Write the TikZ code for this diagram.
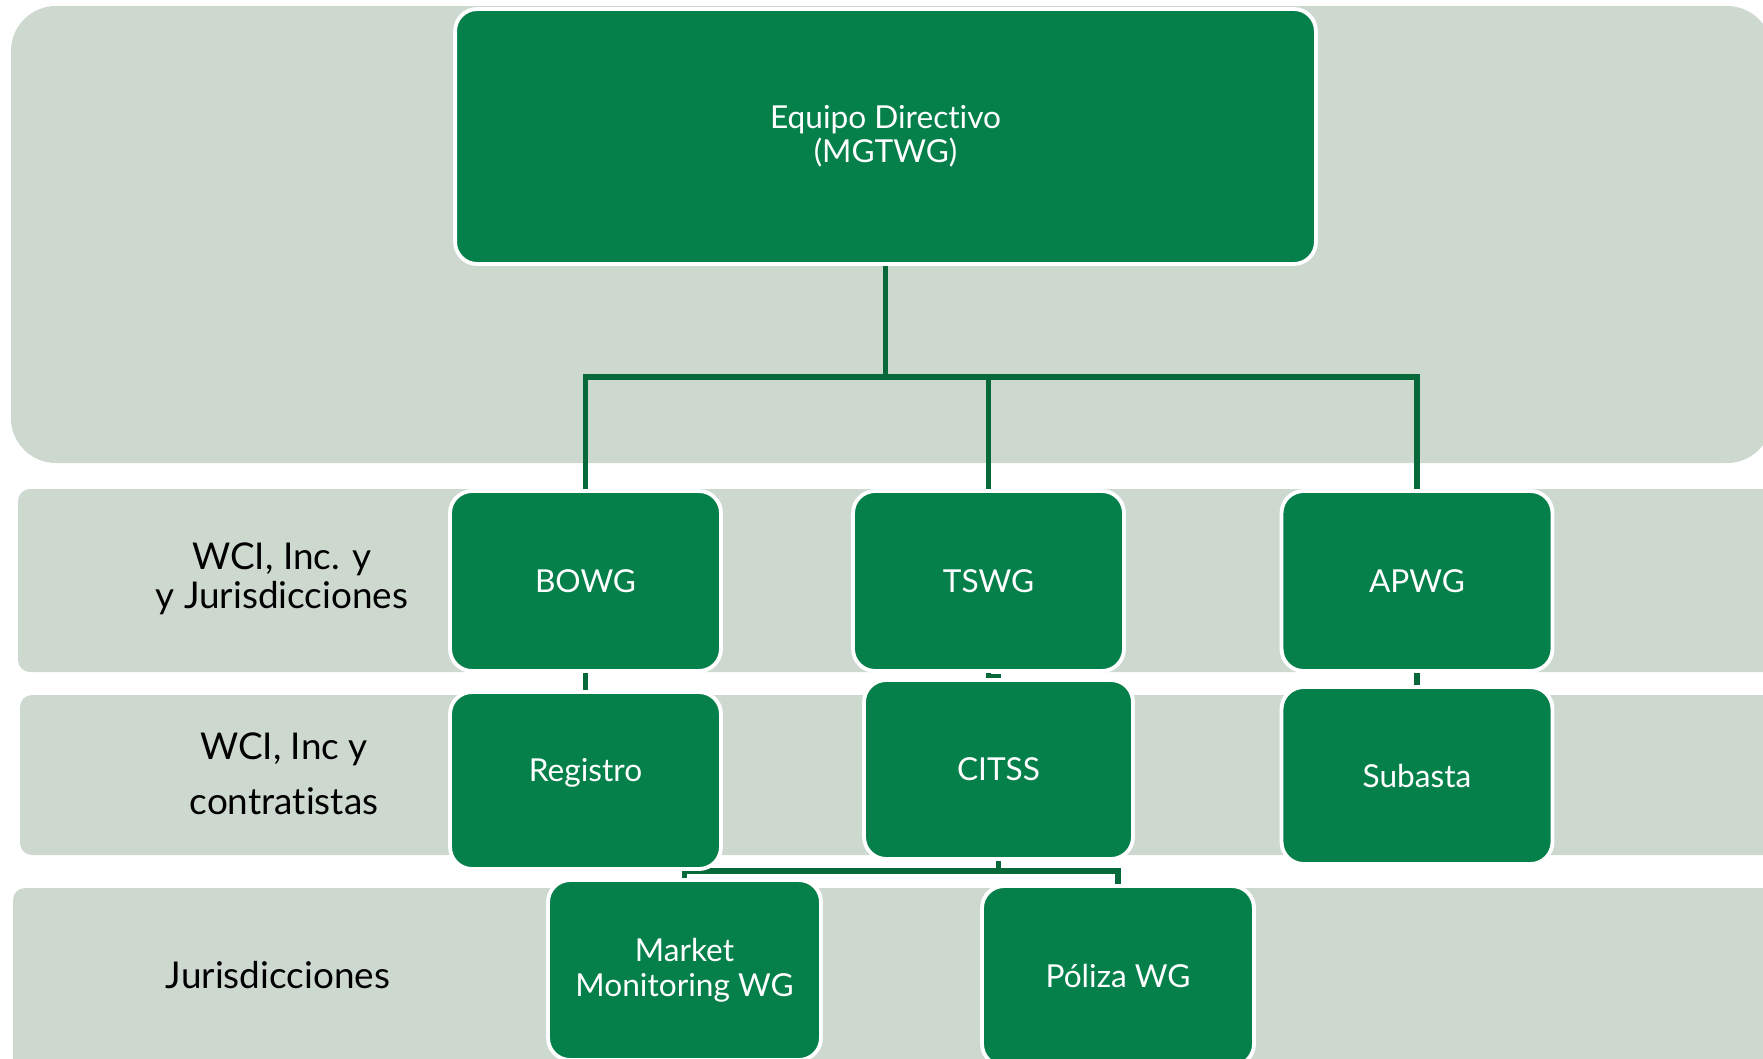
\documentclass[tikz,border=0pt]{standalone}
\usepackage{fontspec}
\setmainfont{Lato}[Ligatures=NoCommon]

\definecolor{bandgray}{HTML}{CDD8CF}
\definecolor{wgreen}{HTML}{05804A}
\definecolor{wiregreen}{HTML}{07693A}

\pgfdeclarelayer{back}
\pgfdeclarelayer{wires}
\pgfsetlayers{back,wires,main}

\tikzset{
  wg/.style={rectangle, rounded corners=0.44cm, fill=wgreen, draw=white,
    line width=2.2pt, text=white, align=center,
    minimum width=5.42cm, minimum height=3.6cm,
    font=\fontsize{18}{19.5}\selectfont},
  tier/.style={align=center, text=black},
  conn/.style={draw=wiregreen, line width=2.9pt},
}

\begin{document}
\begin{tikzpicture}[x=0.02cm, y=-0.02cm]

        \useasboundingbox (0,0) rectangle (1763,1058);

        \begin{scope}[every node/.style={wg}]
          \node[minimum width=17.22cm, minimum height=5.1cm] (mgtwg) at (885.5,136.5) {Equipo Directivo\\(MGTWG)};
          \node (bowg)     at (585.5,581)   {BOWG};
          \node (tswg)     at (988.5,581)   {TSWG};
          \node (apwg)     at (1417,581)    {APWG};
          \node[minimum height=3.54cm, text depth=12.4pt] (registro) at (585.5,780.5) {Registro};
          \node[minimum width=5.38cm, minimum height=3.58cm] (citss) at (998.5,769.5) {CITSS};
          \node[minimum height=3.54cm] (subasta)  at (1417,775.5)  {Subasta};
          \node[minimum width=5.46cm, font=\fontsize{18}{19.8}\selectfont] (mmwg) at (684.5,970) {Market\\Monitoring WG};
          \node[minimum width=5.44cm] (poliza)   at (1118,976)    {Póliza WG};
        \end{scope}

        \begin{scope}[every node/.style={tier}]
          \node[font=\fontsize{21}{22.5}\selectfont] (tier1) at (282,579) {WCI, Inc. y\\y Jurisdicciones};
          \node[font=\fontsize{21}{31.5}\selectfont] (tier2) at (284,774) {WCI, Inc y\\contratistas};
          \node[font=\fontsize{21}{23}\selectfont]   (tier3) at (278,975) {Jurisdicciones};
        \end{scope}

        \coordinate (topbus) at (0,377);
        \coordinate (lowbus) at (0,871);

        \begin{pgfonlayer}{wires}
          \draw[conn] (mgtwg.south) -- (mgtwg.south |- topbus);
          \draw[conn] (bowg.north) |- (apwg.north |- topbus) -- (apwg.north);
          \draw[conn] (tswg.north) -- (tswg.north |- topbus);
          \draw[conn] (bowg.south) -- (registro.north);
          \draw[conn] (tswg.south) -- ++(0,4) -| (citss.north);
          \draw[conn] (apwg.south) -- (subasta.north);
          \draw[conn] (citss.south) -- (citss.south |- lowbus);
          \draw[conn] (mmwg.north) |- (citss.south |- lowbus) -| (poliza.north);
        \end{pgfonlayer}

        % grey bands behind everything
        \begin{pgfonlayer}{back}
          \fill[bandgray, rounded corners=0.9cm]  (11,6)    rectangle (1772,463);
          \fill[bandgray, rounded corners=0.24cm] (18,489)  rectangle (1800,672);
          \fill[bandgray, rounded corners=0.24cm] (20,695)  rectangle (1800,855);
          \fill[bandgray, rounded corners=0.24cm] (13,888)  rectangle (1800,1100);
        \end{pgfonlayer}

      \end{tikzpicture}
\end{document}
